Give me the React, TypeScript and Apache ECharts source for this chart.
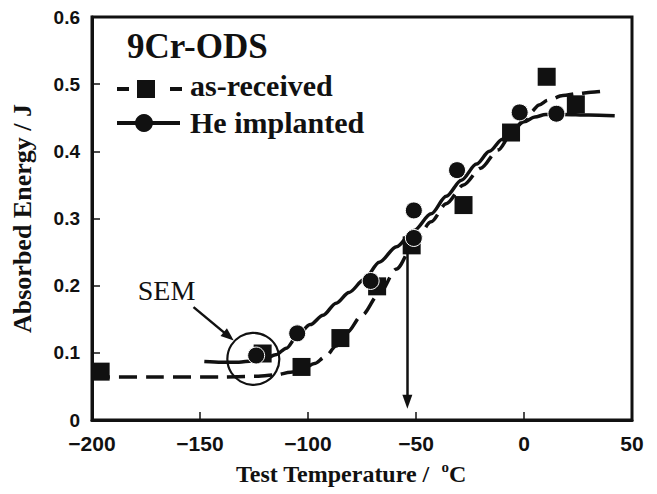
import React, { useEffect, useRef } from "react";
import * as echarts from "echarts";

// X axis: Test Temperature / °C ; Y axis: Absorbed Energy / J
const xRange = { min: -200, max: 50, interval: 50 };
const yRange = { min: 0, max: 0.6, interval: 0.1 };

// measured points
const asReceivedPoints: number[][] = [
  [-196, 0.072], [-121, 0.099], [-103, 0.079], [-85, 0.122], [-68, 0.199],
  [-52, 0.26], [-28, 0.32], [-6, 0.428], [10.5, 0.511], [24, 0.47],
];
const heImplantedPoints: number[][] = [
  [-124, 0.096], [-105, 0.129], [-71, 0.207], [-51, 0.271], [-51, 0.312],
  [-31, 0.372], [-2, 0.458], [15, 0.456],
];

// fitted curves
const asReceivedFit: number[][] = [
  [-200, 0.064], [-170, 0.064], [-140, 0.064], [-125, 0.065], [-115, 0.067],
  [-108, 0.071], [-102, 0.077], [-97, 0.084], [-92, 0.094], [-87, 0.11],
  [-82, 0.13], [-75, 0.156], [-67, 0.188], [-59, 0.225], [-51, 0.262],
  [-43, 0.295], [-36, 0.322], [-28, 0.35], [-20, 0.375], [-12, 0.402],
  [-6, 0.425], [0, 0.447], [3, 0.458], [7, 0.469], [11, 0.476], [18, 0.483],
  [25, 0.486], [31, 0.488], [38, 0.49],
];
const heImplantedFit: number[][] = [
  [-148, 0.087], [-140, 0.086], [-132, 0.086], [-126, 0.088], [-120, 0.091],
  [-115, 0.097], [-110, 0.107], [-105, 0.125], [-99, 0.142], [-93, 0.156],
  [-87, 0.174], [-81, 0.19], [-74, 0.209], [-67, 0.235], [-59, 0.258],
  [-51, 0.282], [-43, 0.307], [-36, 0.333], [-29, 0.357], [-22, 0.381],
  [-16, 0.4], [-10, 0.418], [-5, 0.433], [0, 0.444], [5, 0.451], [10, 0.455],
  [18, 0.455], [30, 0.454], [42, 0.453],
];

// annotations (data coordinates)
const semCircle: number[][] = [[-125.3, 0.091]];
const semArrow: number[][] = [[-153, 0.168], [-136.7, 0.1245]];
const transitionArrow: number[][] = [[-54, 0.255], [-54, 0.027]];
const semLabel: number[] = [-165.5, 0.193];

const seriesNames = ["as-received", "He implanted"];
const titleText = "9Cr-ODS";

const INK = "#111111";
const SERIF = "'Liberation Serif', 'Times New Roman', serif";
const SANS = "'Liberation Sans', Arial, sans-serif";

export default function App() {
  const ref = useRef<HTMLDivElement>(null);
  useEffect(() => {
    if (!ref.current) return;
    const chart = echarts.init(ref.current, null, { renderer: "svg" });
    const option: any = {
      animation: false,
      backgroundColor: "#ffffff",
      grid: {
        left: 92, right: 25, top: 17, bottom: 72,
        show: true, borderColor: INK, borderWidth: 3, backgroundColor: "transparent",
      },
      xAxis: {
        type: "value",
        min: xRange.min, max: xRange.max, interval: xRange.interval,
        name: "Test Temperature /  {sup|o}C",
        nameLocation: "middle",
        nameGap: 39,
        nameTextStyle: {
          fontFamily: SERIF, fontWeight: "bold", fontSize: 24, color: INK,
          lineHeight: 30, padding: [0, 22, 0, 0],
          rich: {
            sup: { fontFamily: SERIF, fontWeight: "bold", fontSize: 15, lineHeight: 16, verticalAlign: "top", color: INK },
          },
        },
        axisLine: { show: true, onZero: false, lineStyle: { color: INK, width: 3 } },
        axisTick: { show: true, inside: true, length: 8, lineStyle: { color: INK, width: 1.5 } },
        axisLabel: {
          margin: 13, fontFamily: SANS, fontWeight: "bold", fontSize: 21, color: INK,
          formatter: (v: number) => String(v).replace("-", "\u2212"),
        },
        splitLine: { show: false },
      },
      yAxis: {
        type: "value",
        min: yRange.min, max: yRange.max, interval: yRange.interval,
        name: "Absorbed Energy / J",
        nameLocation: "middle",
        nameGap: 57,
        nameTextStyle: { fontFamily: SERIF, fontWeight: "bold", fontSize: 26, color: INK },
        axisLine: { show: true, onZero: false, lineStyle: { color: INK, width: 3 } },
        axisTick: { show: true, inside: true, length: 8, lineStyle: { color: INK, width: 1.5 } },
        axisLabel: {
          margin: 12, fontFamily: SANS, fontWeight: "bold", fontSize: 19, color: INK,
          formatter: (v: number) => (v === 0 ? "0" : v.toFixed(1)),
        },
        splitLine: { show: false },
      },
      series: [
        {
          name: seriesNames[0] + " fit",
          type: "line",
          data: asReceivedFit,
          smooth: 0.3,
          smoothMonotone: "x",
          symbol: "none",
          lineStyle: { color: INK, width: 3.5, type: [18, 9] },
          z: 2,
          silent: true,
        },
        {
          name: seriesNames[1] + " fit",
          type: "line",
          data: heImplantedFit,
          smooth: 0.3,
          smoothMonotone: "x",
          symbol: "none",
          lineStyle: { color: INK, width: 3.5, type: "solid" },
          z: 2,
          silent: true,
        },
        {
          name: seriesNames[0],
          type: "scatter",
          data: asReceivedPoints,
          symbol: "rect",
          symbolSize: 18,
          itemStyle: { color: INK, opacity: 1 },
          z: 3,
        },
        {
          name: seriesNames[1],
          type: "scatter",
          data: heImplantedPoints,
          symbol: "circle",
          symbolSize: 17,
          itemStyle: { color: INK, borderColor: "#ffffff", borderWidth: 1, opacity: 1 },
          z: 4,
        },
        {
          name: "SEM",
          type: "scatter",
          data: semCircle,
          symbol: "circle",
          symbolSize: 52,
          itemStyle: { color: "rgba(0,0,0,0)", borderColor: INK, borderWidth: 2.2, opacity: 1 },
          z: 5,
          silent: true,
          markLine: {
            silent: true,
            animation: false,
            label: { show: false },
            lineStyle: { color: INK, width: 2.5, type: "solid" },
            data: [
              [
                { coord: semArrow[0], symbol: "none" },
                { coord: semArrow[1], symbol: "triangle", symbolSize: [10, 13] },
              ],
              [
                { coord: transitionArrow[0], symbol: "none" },
                { coord: transitionArrow[1], symbol: "triangle", symbolSize: [10, 14] },
              ],
            ],
          },
          markPoint: {
            silent: true,
            animation: false,
            symbol: "circle",
            symbolSize: 1,
            itemStyle: { color: "rgba(0,0,0,0)" },
            label: {
              show: true, position: "inside", formatter: "SEM",
              fontFamily: SERIF, fontSize: 28, fontWeight: "normal", color: INK,
            },
            data: [{ coord: semLabel }],
          },
        },
      ],
      graphic: [
        {
          type: "text", x: 127, y: 46, z: 10,
          style: { text: titleText, fontFamily: SERIF, fontWeight: "bold", fontSize: 35, fill: INK, align: "left", verticalAlign: "middle" },
        },
        { type: "line", z: 10, shape: { x1: 117, y1: 89, x2: 129, y2: 89 }, style: { stroke: INK, lineWidth: 4 } },
        { type: "rect", z: 10, shape: { x: 137, y: 80, width: 18, height: 18 }, style: { fill: INK } },
        { type: "line", z: 10, shape: { x1: 170, y1: 89, x2: 182, y2: 89 }, style: { stroke: INK, lineWidth: 4 } },
        {
          type: "text", x: 190, y: 85, z: 10,
          style: { text: seriesNames[0], fontFamily: SERIF, fontWeight: "bold", fontSize: 30, fill: INK, align: "left", verticalAlign: "middle" },
        },
        { type: "line", z: 10, shape: { x1: 117, y1: 123, x2: 180, y2: 123 }, style: { stroke: INK, lineWidth: 4 } },
        { type: "circle", z: 10, shape: { cx: 144, cy: 123, r: 9 }, style: { fill: INK } },
        {
          type: "text", x: 190, y: 122, z: 10,
          style: { text: seriesNames[1], fontFamily: SERIF, fontWeight: "bold", fontSize: 30, fill: INK, align: "left", verticalAlign: "middle" },
        },
      ],
    };
    chart.setOption(option);
    return () => chart.dispose();
  }, []);
  return (
    <div
      ref={ref}
      style={{ position: "fixed", left: 0, top: 0, width: 657, height: 494, background: "#fff" }}
    />
  );
}
